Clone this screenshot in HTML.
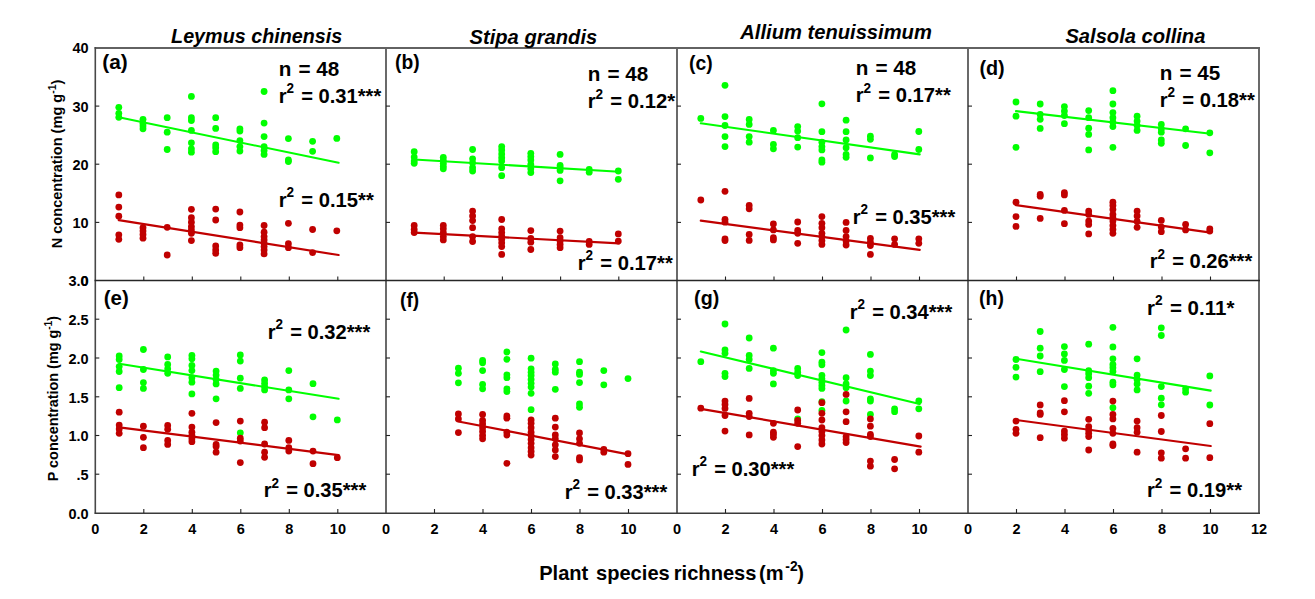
<!DOCTYPE html>
<html lang="en">
<head>
<meta charset="utf-8">
<title>Plant species richness vs N and P concentration</title>
<style>
html,body{margin:0;padding:0;background:#fff;}
body{width:1315px;height:599px;overflow:hidden;}
svg{display:block;}
text{font-family:"Liberation Sans",sans-serif;fill:#000;}
.b{font-weight:bold;font-size:20.6px;}
.bi{font-weight:bold;font-style:italic;font-size:20.6px;}
.s{font-weight:bold;font-size:14.5px;}
</style>
</head>
<body>
<svg width="1315" height="599" viewBox="0 0 1315 599">
<rect x="0" y="0" width="1315" height="599" fill="#ffffff"/>
<g id="axes">
<line x1="94.6" y1="48.0" x2="1260.0" y2="48.0" stroke="#626262" stroke-width="2"/>
<line x1="386.0" y1="48.0" x2="386.0" y2="513.7" stroke="#626262" stroke-width="1.9"/>
<line x1="677.0" y1="48.0" x2="677.0" y2="513.7" stroke="#626262" stroke-width="1.9"/>
<line x1="968.0" y1="48.0" x2="968.0" y2="513.7" stroke="#626262" stroke-width="1.9"/>
<line x1="1259.0" y1="48.0" x2="1259.0" y2="513.7" stroke="#626262" stroke-width="1.9"/>
<line x1="95.3" y1="47.0" x2="95.3" y2="513.7" stroke="#484848" stroke-width="1.6"/>
<line x1="94.6" y1="280.5" x2="1260.0" y2="280.5" stroke="#262626" stroke-width="1.4"/>
<line x1="94.6" y1="513.2" x2="1260.0" y2="513.2" stroke="#3a3a3a" stroke-width="1.5"/>
<line x1="143.8" y1="513.0" x2="143.8" y2="509.0" stroke="#222" stroke-width="1.1"/>
<line x1="192.3" y1="513.0" x2="192.3" y2="509.0" stroke="#222" stroke-width="1.1"/>
<line x1="240.8" y1="513.0" x2="240.8" y2="509.0" stroke="#222" stroke-width="1.1"/>
<line x1="289.3" y1="513.0" x2="289.3" y2="509.0" stroke="#222" stroke-width="1.1"/>
<line x1="337.8" y1="513.0" x2="337.8" y2="509.0" stroke="#222" stroke-width="1.1"/>
<line x1="143.8" y1="280.5" x2="143.8" y2="276.5" stroke="#222" stroke-width="1.1"/>
<line x1="192.3" y1="280.5" x2="192.3" y2="276.5" stroke="#222" stroke-width="1.1"/>
<line x1="240.8" y1="280.5" x2="240.8" y2="276.5" stroke="#222" stroke-width="1.1"/>
<line x1="289.3" y1="280.5" x2="289.3" y2="276.5" stroke="#222" stroke-width="1.1"/>
<line x1="337.8" y1="280.5" x2="337.8" y2="276.5" stroke="#222" stroke-width="1.1"/>
<line x1="434.5" y1="513.0" x2="434.5" y2="509.0" stroke="#222" stroke-width="1.1"/>
<line x1="483.0" y1="513.0" x2="483.0" y2="509.0" stroke="#222" stroke-width="1.1"/>
<line x1="531.5" y1="513.0" x2="531.5" y2="509.0" stroke="#222" stroke-width="1.1"/>
<line x1="580.0" y1="513.0" x2="580.0" y2="509.0" stroke="#222" stroke-width="1.1"/>
<line x1="628.5" y1="513.0" x2="628.5" y2="509.0" stroke="#222" stroke-width="1.1"/>
<line x1="444.2" y1="280.5" x2="444.2" y2="276.5" stroke="#222" stroke-width="1.1"/>
<line x1="502.4" y1="280.5" x2="502.4" y2="276.5" stroke="#222" stroke-width="1.1"/>
<line x1="560.6" y1="280.5" x2="560.6" y2="276.5" stroke="#222" stroke-width="1.1"/>
<line x1="618.8" y1="280.5" x2="618.8" y2="276.5" stroke="#222" stroke-width="1.1"/>
<line x1="725.5" y1="513.0" x2="725.5" y2="509.0" stroke="#222" stroke-width="1.1"/>
<line x1="774.0" y1="513.0" x2="774.0" y2="509.0" stroke="#222" stroke-width="1.1"/>
<line x1="822.5" y1="513.0" x2="822.5" y2="509.0" stroke="#222" stroke-width="1.1"/>
<line x1="871.0" y1="513.0" x2="871.0" y2="509.0" stroke="#222" stroke-width="1.1"/>
<line x1="919.5" y1="513.0" x2="919.5" y2="509.0" stroke="#222" stroke-width="1.1"/>
<line x1="725.5" y1="280.5" x2="725.5" y2="276.5" stroke="#222" stroke-width="1.1"/>
<line x1="774.0" y1="280.5" x2="774.0" y2="276.5" stroke="#222" stroke-width="1.1"/>
<line x1="822.5" y1="280.5" x2="822.5" y2="276.5" stroke="#222" stroke-width="1.1"/>
<line x1="871.0" y1="280.5" x2="871.0" y2="276.5" stroke="#222" stroke-width="1.1"/>
<line x1="919.5" y1="280.5" x2="919.5" y2="276.5" stroke="#222" stroke-width="1.1"/>
<line x1="1016.5" y1="513.0" x2="1016.5" y2="509.0" stroke="#222" stroke-width="1.1"/>
<line x1="1065.0" y1="513.0" x2="1065.0" y2="509.0" stroke="#222" stroke-width="1.1"/>
<line x1="1113.5" y1="513.0" x2="1113.5" y2="509.0" stroke="#222" stroke-width="1.1"/>
<line x1="1162.0" y1="513.0" x2="1162.0" y2="509.0" stroke="#222" stroke-width="1.1"/>
<line x1="1210.5" y1="513.0" x2="1210.5" y2="509.0" stroke="#222" stroke-width="1.1"/>
<line x1="1016.5" y1="280.5" x2="1016.5" y2="276.5" stroke="#222" stroke-width="1.1"/>
<line x1="1065.0" y1="280.5" x2="1065.0" y2="276.5" stroke="#222" stroke-width="1.1"/>
<line x1="1113.5" y1="280.5" x2="1113.5" y2="276.5" stroke="#222" stroke-width="1.1"/>
<line x1="1162.0" y1="280.5" x2="1162.0" y2="276.5" stroke="#222" stroke-width="1.1"/>
<line x1="1210.5" y1="280.5" x2="1210.5" y2="276.5" stroke="#222" stroke-width="1.1"/>
<line x1="95.3" y1="222.4" x2="99.3" y2="222.4" stroke="#222" stroke-width="1.1"/>
<line x1="95.3" y1="164.2" x2="99.3" y2="164.2" stroke="#222" stroke-width="1.1"/>
<line x1="95.3" y1="106.1" x2="99.3" y2="106.1" stroke="#222" stroke-width="1.1"/>
<line x1="95.3" y1="474.2" x2="99.3" y2="474.2" stroke="#222" stroke-width="1.1"/>
<line x1="95.3" y1="435.5" x2="99.3" y2="435.5" stroke="#222" stroke-width="1.1"/>
<line x1="95.3" y1="396.8" x2="99.3" y2="396.8" stroke="#222" stroke-width="1.1"/>
<line x1="95.3" y1="358.0" x2="99.3" y2="358.0" stroke="#222" stroke-width="1.1"/>
<line x1="95.3" y1="319.2" x2="99.3" y2="319.2" stroke="#222" stroke-width="1.1"/>
<line x1="386.0" y1="222.4" x2="390.0" y2="222.4" stroke="#222" stroke-width="1.1"/>
<line x1="386.0" y1="164.2" x2="390.0" y2="164.2" stroke="#222" stroke-width="1.1"/>
<line x1="386.0" y1="106.1" x2="390.0" y2="106.1" stroke="#222" stroke-width="1.1"/>
<line x1="386.0" y1="474.2" x2="390.0" y2="474.2" stroke="#222" stroke-width="1.1"/>
<line x1="386.0" y1="435.5" x2="390.0" y2="435.5" stroke="#222" stroke-width="1.1"/>
<line x1="386.0" y1="396.8" x2="390.0" y2="396.8" stroke="#222" stroke-width="1.1"/>
<line x1="386.0" y1="358.0" x2="390.0" y2="358.0" stroke="#222" stroke-width="1.1"/>
<line x1="386.0" y1="319.2" x2="390.0" y2="319.2" stroke="#222" stroke-width="1.1"/>
<line x1="677.0" y1="222.4" x2="681.0" y2="222.4" stroke="#222" stroke-width="1.1"/>
<line x1="677.0" y1="164.2" x2="681.0" y2="164.2" stroke="#222" stroke-width="1.1"/>
<line x1="677.0" y1="106.1" x2="681.0" y2="106.1" stroke="#222" stroke-width="1.1"/>
<line x1="677.0" y1="474.2" x2="681.0" y2="474.2" stroke="#222" stroke-width="1.1"/>
<line x1="677.0" y1="435.5" x2="681.0" y2="435.5" stroke="#222" stroke-width="1.1"/>
<line x1="677.0" y1="396.8" x2="681.0" y2="396.8" stroke="#222" stroke-width="1.1"/>
<line x1="677.0" y1="358.0" x2="681.0" y2="358.0" stroke="#222" stroke-width="1.1"/>
<line x1="677.0" y1="319.2" x2="681.0" y2="319.2" stroke="#222" stroke-width="1.1"/>
<line x1="968.0" y1="222.4" x2="972.0" y2="222.4" stroke="#222" stroke-width="1.1"/>
<line x1="968.0" y1="164.2" x2="972.0" y2="164.2" stroke="#222" stroke-width="1.1"/>
<line x1="968.0" y1="106.1" x2="972.0" y2="106.1" stroke="#222" stroke-width="1.1"/>
<line x1="968.0" y1="474.2" x2="972.0" y2="474.2" stroke="#222" stroke-width="1.1"/>
<line x1="968.0" y1="435.5" x2="972.0" y2="435.5" stroke="#222" stroke-width="1.1"/>
<line x1="968.0" y1="396.8" x2="972.0" y2="396.8" stroke="#222" stroke-width="1.1"/>
<line x1="968.0" y1="358.0" x2="972.0" y2="358.0" stroke="#222" stroke-width="1.1"/>
<line x1="968.0" y1="319.2" x2="972.0" y2="319.2" stroke="#222" stroke-width="1.1"/>
</g>
<g id="data">
<g fill="#00ff00"><line x1="118.8" y1="117.3" x2="338.6" y2="162.8" stroke="#00ff00" stroke-width="2.1" stroke-linecap="round"/><circle cx="118.8" cy="107.3" r="3.4"/><circle cx="118.8" cy="113.3" r="3.4"/><circle cx="118.8" cy="117.3" r="3.4"/><circle cx="143.0" cy="119.3" r="3.4"/><circle cx="143.0" cy="123.3" r="3.4"/><circle cx="143.0" cy="126.0" r="3.4"/><circle cx="143.0" cy="128.8" r="3.4"/><circle cx="167.2" cy="117.7" r="3.4"/><circle cx="167.2" cy="132.2" r="3.4"/><circle cx="167.2" cy="149.5" r="3.4"/><circle cx="191.4" cy="96.4" r="3.4"/><circle cx="191.4" cy="117.7" r="3.4"/><circle cx="191.4" cy="120.6" r="3.4"/><circle cx="191.4" cy="130.4" r="3.4"/><circle cx="191.4" cy="142.8" r="3.4"/><circle cx="191.4" cy="148.8" r="3.4"/><circle cx="191.4" cy="152.2" r="3.4"/><circle cx="215.7" cy="117.7" r="3.4"/><circle cx="215.7" cy="128.4" r="3.4"/><circle cx="215.7" cy="144.8" r="3.4"/><circle cx="215.7" cy="147.7" r="3.4"/><circle cx="215.7" cy="151.7" r="3.4"/><circle cx="239.9" cy="128.8" r="3.4"/><circle cx="239.9" cy="131.1" r="3.4"/><circle cx="239.9" cy="140.6" r="3.4"/><circle cx="239.9" cy="146.6" r="3.4"/><circle cx="239.9" cy="151.1" r="3.4"/><circle cx="264.1" cy="91.5" r="3.4"/><circle cx="264.1" cy="123.1" r="3.4"/><circle cx="264.1" cy="136.6" r="3.4"/><circle cx="264.1" cy="146.6" r="3.4"/><circle cx="264.1" cy="150.4" r="3.4"/><circle cx="264.1" cy="154.4" r="3.4"/><circle cx="288.4" cy="138.6" r="3.4"/><circle cx="288.4" cy="159.9" r="3.4"/><circle cx="288.4" cy="161.5" r="3.4"/><circle cx="312.6" cy="141.3" r="3.4"/><circle cx="312.6" cy="151.3" r="3.4"/><circle cx="336.8" cy="138.4" r="3.4"/></g>
<g fill="#c00000"><line x1="118.8" y1="220.2" x2="338.6" y2="255.0" stroke="#c00000" stroke-width="2.2" stroke-linecap="round"/><circle cx="118.8" cy="194.9" r="3.4"/><circle cx="118.8" cy="207.1" r="3.4"/><circle cx="118.8" cy="216.2" r="3.4"/><circle cx="118.8" cy="234.8" r="3.4"/><circle cx="118.8" cy="239.3" r="3.4"/><circle cx="143.0" cy="227.7" r="3.4"/><circle cx="143.0" cy="231.1" r="3.4"/><circle cx="143.0" cy="234.4" r="3.4"/><circle cx="143.0" cy="238.2" r="3.4"/><circle cx="167.2" cy="227.3" r="3.4"/><circle cx="167.2" cy="255.0" r="3.4"/><circle cx="191.4" cy="209.3" r="3.4"/><circle cx="191.4" cy="217.7" r="3.4"/><circle cx="191.4" cy="222.2" r="3.4"/><circle cx="191.4" cy="226.6" r="3.4"/><circle cx="191.4" cy="229.9" r="3.4"/><circle cx="191.4" cy="233.3" r="3.4"/><circle cx="191.4" cy="240.6" r="3.4"/><circle cx="215.7" cy="209.1" r="3.4"/><circle cx="215.7" cy="220.0" r="3.4"/><circle cx="215.7" cy="245.9" r="3.4"/><circle cx="215.7" cy="249.9" r="3.4"/><circle cx="215.7" cy="253.3" r="3.4"/><circle cx="239.9" cy="212.0" r="3.4"/><circle cx="239.9" cy="225.1" r="3.4"/><circle cx="239.9" cy="227.7" r="3.4"/><circle cx="239.9" cy="245.0" r="3.4"/><circle cx="239.9" cy="247.7" r="3.4"/><circle cx="264.1" cy="225.5" r="3.4"/><circle cx="264.1" cy="232.2" r="3.4"/><circle cx="264.1" cy="236.6" r="3.4"/><circle cx="264.1" cy="239.9" r="3.4"/><circle cx="264.1" cy="243.3" r="3.4"/><circle cx="264.1" cy="246.6" r="3.4"/><circle cx="264.1" cy="249.9" r="3.4"/><circle cx="264.1" cy="253.9" r="3.4"/><circle cx="288.4" cy="223.3" r="3.4"/><circle cx="288.4" cy="243.7" r="3.4"/><circle cx="288.4" cy="247.7" r="3.4"/><circle cx="312.6" cy="229.5" r="3.4"/><circle cx="312.6" cy="252.6" r="3.4"/><circle cx="336.8" cy="230.8" r="3.4"/></g>
<g fill="#00ff00"><line x1="414.2" y1="159.5" x2="619.2" y2="171.7" stroke="#00ff00" stroke-width="2.1" stroke-linecap="round"/><circle cx="414.2" cy="151.7" r="3.4"/><circle cx="414.2" cy="157.1" r="3.4"/><circle cx="414.2" cy="161.1" r="3.4"/><circle cx="414.2" cy="163.3" r="3.4"/><circle cx="443.3" cy="157.3" r="3.4"/><circle cx="443.3" cy="160.4" r="3.4"/><circle cx="443.3" cy="163.3" r="3.4"/><circle cx="443.3" cy="166.2" r="3.4"/><circle cx="443.3" cy="168.8" r="3.4"/><circle cx="472.6" cy="149.5" r="3.4"/><circle cx="472.6" cy="158.8" r="3.4"/><circle cx="472.6" cy="162.8" r="3.4"/><circle cx="472.6" cy="167.7" r="3.4"/><circle cx="472.6" cy="171.0" r="3.4"/><circle cx="501.7" cy="146.6" r="3.4"/><circle cx="501.7" cy="149.9" r="3.4"/><circle cx="501.7" cy="153.9" r="3.4"/><circle cx="501.7" cy="157.7" r="3.4"/><circle cx="501.7" cy="161.1" r="3.4"/><circle cx="501.7" cy="167.7" r="3.4"/><circle cx="501.7" cy="175.7" r="3.4"/><circle cx="530.8" cy="153.3" r="3.4"/><circle cx="530.8" cy="156.6" r="3.4"/><circle cx="530.8" cy="159.9" r="3.4"/><circle cx="530.8" cy="164.4" r="3.4"/><circle cx="530.8" cy="168.8" r="3.4"/><circle cx="530.8" cy="172.6" r="3.4"/><circle cx="560.1" cy="154.4" r="3.4"/><circle cx="560.1" cy="165.5" r="3.4"/><circle cx="560.1" cy="167.7" r="3.4"/><circle cx="560.1" cy="170.4" r="3.4"/><circle cx="560.1" cy="180.8" r="3.4"/><circle cx="589.2" cy="169.5" r="3.4"/><circle cx="589.2" cy="172.2" r="3.4"/><circle cx="618.3" cy="171.0" r="3.4"/><circle cx="618.3" cy="179.3" r="3.4"/></g>
<g fill="#c00000"><line x1="414.2" y1="232.6" x2="619.2" y2="243.3" stroke="#c00000" stroke-width="2.2" stroke-linecap="round"/><circle cx="414.2" cy="225.5" r="3.4"/><circle cx="414.2" cy="229.5" r="3.4"/><circle cx="414.2" cy="232.6" r="3.4"/><circle cx="443.3" cy="225.5" r="3.4"/><circle cx="443.3" cy="228.8" r="3.4"/><circle cx="443.3" cy="232.6" r="3.4"/><circle cx="443.3" cy="236.6" r="3.4"/><circle cx="443.3" cy="239.9" r="3.4"/><circle cx="472.6" cy="211.1" r="3.4"/><circle cx="472.6" cy="216.0" r="3.4"/><circle cx="472.6" cy="220.6" r="3.4"/><circle cx="472.6" cy="227.7" r="3.4"/><circle cx="472.6" cy="236.6" r="3.4"/><circle cx="472.6" cy="241.5" r="3.4"/><circle cx="501.7" cy="219.5" r="3.4"/><circle cx="501.7" cy="228.8" r="3.4"/><circle cx="501.7" cy="232.6" r="3.4"/><circle cx="501.7" cy="236.2" r="3.4"/><circle cx="501.7" cy="239.3" r="3.4"/><circle cx="501.7" cy="242.8" r="3.4"/><circle cx="501.7" cy="246.6" r="3.4"/><circle cx="501.7" cy="254.4" r="3.4"/><circle cx="530.8" cy="230.6" r="3.4"/><circle cx="530.8" cy="238.4" r="3.4"/><circle cx="530.8" cy="242.2" r="3.4"/><circle cx="530.8" cy="249.5" r="3.4"/><circle cx="560.1" cy="231.1" r="3.4"/><circle cx="560.1" cy="237.7" r="3.4"/><circle cx="560.1" cy="241.1" r="3.4"/><circle cx="560.1" cy="244.4" r="3.4"/><circle cx="560.1" cy="247.7" r="3.4"/><circle cx="589.2" cy="241.5" r="3.4"/><circle cx="589.2" cy="244.4" r="3.4"/><circle cx="618.3" cy="233.9" r="3.4"/><circle cx="618.3" cy="241.1" r="3.4"/></g>
<g fill="#00ff00"><line x1="700.8" y1="123.3" x2="919.7" y2="154.4" stroke="#00ff00" stroke-width="2.1" stroke-linecap="round"/><circle cx="700.8" cy="118.4" r="3.4"/><circle cx="725.0" cy="85.3" r="3.4"/><circle cx="725.0" cy="116.6" r="3.4"/><circle cx="725.0" cy="125.5" r="3.4"/><circle cx="725.0" cy="136.6" r="3.4"/><circle cx="725.0" cy="146.6" r="3.4"/><circle cx="749.2" cy="119.5" r="3.4"/><circle cx="749.2" cy="124.4" r="3.4"/><circle cx="749.2" cy="136.6" r="3.4"/><circle cx="749.2" cy="142.2" r="3.4"/><circle cx="773.4" cy="130.4" r="3.4"/><circle cx="773.4" cy="144.4" r="3.4"/><circle cx="773.4" cy="148.8" r="3.4"/><circle cx="797.7" cy="126.6" r="3.4"/><circle cx="797.7" cy="131.1" r="3.4"/><circle cx="797.7" cy="137.7" r="3.4"/><circle cx="797.7" cy="147.1" r="3.4"/><circle cx="821.9" cy="103.8" r="3.4"/><circle cx="821.9" cy="131.7" r="3.4"/><circle cx="821.9" cy="142.2" r="3.4"/><circle cx="821.9" cy="146.6" r="3.4"/><circle cx="821.9" cy="149.9" r="3.4"/><circle cx="821.9" cy="159.9" r="3.4"/><circle cx="821.9" cy="162.2" r="3.4"/><circle cx="846.1" cy="120.2" r="3.4"/><circle cx="846.1" cy="131.7" r="3.4"/><circle cx="846.1" cy="140.0" r="3.4"/><circle cx="846.1" cy="147.7" r="3.4"/><circle cx="846.1" cy="154.4" r="3.4"/><circle cx="846.1" cy="157.3" r="3.4"/><circle cx="870.4" cy="136.2" r="3.4"/><circle cx="870.4" cy="139.3" r="3.4"/><circle cx="870.4" cy="157.9" r="3.4"/><circle cx="894.6" cy="154.4" r="3.4"/><circle cx="894.6" cy="156.6" r="3.4"/><circle cx="918.8" cy="131.5" r="3.4"/><circle cx="918.8" cy="149.5" r="3.4"/></g>
<g fill="#c00000"><line x1="700.8" y1="220.6" x2="919.7" y2="249.9" stroke="#c00000" stroke-width="2.2" stroke-linecap="round"/><circle cx="700.8" cy="200.0" r="3.4"/><circle cx="725.0" cy="191.3" r="3.4"/><circle cx="725.0" cy="219.3" r="3.4"/><circle cx="725.0" cy="222.2" r="3.4"/><circle cx="725.0" cy="238.8" r="3.4"/><circle cx="725.0" cy="240.6" r="3.4"/><circle cx="749.2" cy="205.5" r="3.4"/><circle cx="749.2" cy="208.8" r="3.4"/><circle cx="749.2" cy="234.4" r="3.4"/><circle cx="749.2" cy="240.4" r="3.4"/><circle cx="773.4" cy="224.0" r="3.4"/><circle cx="773.4" cy="229.9" r="3.4"/><circle cx="773.4" cy="237.7" r="3.4"/><circle cx="773.4" cy="239.9" r="3.4"/><circle cx="797.7" cy="222.0" r="3.4"/><circle cx="797.7" cy="230.4" r="3.4"/><circle cx="797.7" cy="233.3" r="3.4"/><circle cx="797.7" cy="243.3" r="3.4"/><circle cx="821.9" cy="216.6" r="3.4"/><circle cx="821.9" cy="223.3" r="3.4"/><circle cx="821.9" cy="227.7" r="3.4"/><circle cx="821.9" cy="233.3" r="3.4"/><circle cx="821.9" cy="236.6" r="3.4"/><circle cx="821.9" cy="240.6" r="3.4"/><circle cx="821.9" cy="244.4" r="3.4"/><circle cx="846.1" cy="222.4" r="3.4"/><circle cx="846.1" cy="230.4" r="3.4"/><circle cx="846.1" cy="236.6" r="3.4"/><circle cx="846.1" cy="241.1" r="3.4"/><circle cx="846.1" cy="245.0" r="3.4"/><circle cx="870.4" cy="238.4" r="3.4"/><circle cx="870.4" cy="242.2" r="3.4"/><circle cx="870.4" cy="245.5" r="3.4"/><circle cx="870.4" cy="254.4" r="3.4"/><circle cx="894.6" cy="238.8" r="3.4"/><circle cx="894.6" cy="244.4" r="3.4"/><circle cx="918.8" cy="238.8" r="3.4"/><circle cx="918.8" cy="243.3" r="3.4"/></g>
<g fill="#00ff00"><line x1="1016.0" y1="111.1" x2="1210.7" y2="133.7" stroke="#00ff00" stroke-width="2.1" stroke-linecap="round"/><circle cx="1016.0" cy="102.0" r="3.4"/><circle cx="1016.0" cy="116.2" r="3.4"/><circle cx="1016.0" cy="147.3" r="3.4"/><circle cx="1040.2" cy="104.0" r="3.4"/><circle cx="1040.2" cy="114.4" r="3.4"/><circle cx="1040.2" cy="119.3" r="3.4"/><circle cx="1040.2" cy="128.4" r="3.4"/><circle cx="1064.4" cy="106.6" r="3.4"/><circle cx="1064.4" cy="111.1" r="3.4"/><circle cx="1064.4" cy="115.5" r="3.4"/><circle cx="1064.4" cy="123.7" r="3.4"/><circle cx="1088.7" cy="110.6" r="3.4"/><circle cx="1088.7" cy="117.7" r="3.4"/><circle cx="1088.7" cy="128.2" r="3.4"/><circle cx="1088.7" cy="134.4" r="3.4"/><circle cx="1088.7" cy="149.9" r="3.4"/><circle cx="1112.9" cy="90.7" r="3.4"/><circle cx="1112.9" cy="104.0" r="3.4"/><circle cx="1112.9" cy="112.6" r="3.4"/><circle cx="1112.9" cy="117.7" r="3.4"/><circle cx="1112.9" cy="122.2" r="3.4"/><circle cx="1112.9" cy="126.6" r="3.4"/><circle cx="1112.9" cy="147.3" r="3.4"/><circle cx="1137.1" cy="116.2" r="3.4"/><circle cx="1137.1" cy="121.1" r="3.4"/><circle cx="1137.1" cy="125.5" r="3.4"/><circle cx="1137.1" cy="130.4" r="3.4"/><circle cx="1161.3" cy="124.4" r="3.4"/><circle cx="1161.3" cy="128.8" r="3.4"/><circle cx="1161.3" cy="132.2" r="3.4"/><circle cx="1161.3" cy="140.0" r="3.4"/><circle cx="1161.3" cy="143.3" r="3.4"/><circle cx="1185.6" cy="128.8" r="3.4"/><circle cx="1185.6" cy="145.5" r="3.4"/><circle cx="1209.8" cy="132.8" r="3.4"/><circle cx="1209.8" cy="152.8" r="3.4"/></g>
<g fill="#c00000"><line x1="1016.0" y1="205.1" x2="1210.7" y2="232.6" stroke="#c00000" stroke-width="2.2" stroke-linecap="round"/><circle cx="1016.0" cy="202.2" r="3.4"/><circle cx="1016.0" cy="216.6" r="3.4"/><circle cx="1016.0" cy="226.4" r="3.4"/><circle cx="1040.2" cy="194.4" r="3.4"/><circle cx="1040.2" cy="196.2" r="3.4"/><circle cx="1040.2" cy="218.4" r="3.4"/><circle cx="1064.4" cy="192.6" r="3.4"/><circle cx="1064.4" cy="194.9" r="3.4"/><circle cx="1064.4" cy="210.4" r="3.4"/><circle cx="1064.4" cy="223.7" r="3.4"/><circle cx="1088.7" cy="211.1" r="3.4"/><circle cx="1088.7" cy="214.4" r="3.4"/><circle cx="1088.7" cy="221.1" r="3.4"/><circle cx="1088.7" cy="224.4" r="3.4"/><circle cx="1088.7" cy="233.9" r="3.4"/><circle cx="1112.9" cy="202.2" r="3.4"/><circle cx="1112.9" cy="205.5" r="3.4"/><circle cx="1112.9" cy="209.5" r="3.4"/><circle cx="1112.9" cy="214.4" r="3.4"/><circle cx="1112.9" cy="217.7" r="3.4"/><circle cx="1112.9" cy="221.1" r="3.4"/><circle cx="1112.9" cy="225.5" r="3.4"/><circle cx="1112.9" cy="229.5" r="3.4"/><circle cx="1112.9" cy="233.3" r="3.4"/><circle cx="1137.1" cy="211.1" r="3.4"/><circle cx="1137.1" cy="216.0" r="3.4"/><circle cx="1137.1" cy="221.5" r="3.4"/><circle cx="1137.1" cy="227.3" r="3.4"/><circle cx="1161.3" cy="220.4" r="3.4"/><circle cx="1161.3" cy="227.1" r="3.4"/><circle cx="1161.3" cy="231.7" r="3.4"/><circle cx="1185.6" cy="224.4" r="3.4"/><circle cx="1185.6" cy="229.9" r="3.4"/><circle cx="1209.8" cy="228.8" r="3.4"/><circle cx="1209.8" cy="231.1" r="3.4"/></g>
<g fill="#00ff00"><line x1="119.2" y1="363.7" x2="338.6" y2="398.8" stroke="#00ff00" stroke-width="2.1" stroke-linecap="round"/><circle cx="119.2" cy="356.0" r="3.4"/><circle cx="119.2" cy="359.5" r="3.4"/><circle cx="119.2" cy="366.6" r="3.4"/><circle cx="119.2" cy="371.5" r="3.4"/><circle cx="119.2" cy="387.7" r="3.4"/><circle cx="143.4" cy="349.5" r="3.4"/><circle cx="143.4" cy="369.5" r="3.4"/><circle cx="143.4" cy="382.6" r="3.4"/><circle cx="143.4" cy="388.4" r="3.4"/><circle cx="167.7" cy="356.9" r="3.4"/><circle cx="167.7" cy="364.4" r="3.4"/><circle cx="167.7" cy="368.8" r="3.4"/><circle cx="167.7" cy="373.3" r="3.4"/><circle cx="191.9" cy="355.5" r="3.4"/><circle cx="191.9" cy="358.8" r="3.4"/><circle cx="191.9" cy="365.5" r="3.4"/><circle cx="191.9" cy="370.6" r="3.4"/><circle cx="191.9" cy="377.7" r="3.4"/><circle cx="191.9" cy="382.2" r="3.4"/><circle cx="191.9" cy="393.9" r="3.4"/><circle cx="216.1" cy="371.1" r="3.4"/><circle cx="216.1" cy="375.1" r="3.4"/><circle cx="216.1" cy="379.5" r="3.4"/><circle cx="216.1" cy="383.9" r="3.4"/><circle cx="216.1" cy="398.8" r="3.4"/><circle cx="240.3" cy="354.9" r="3.4"/><circle cx="240.3" cy="361.1" r="3.4"/><circle cx="240.3" cy="378.2" r="3.4"/><circle cx="240.3" cy="388.4" r="3.4"/><circle cx="240.3" cy="432.8" r="3.4"/><circle cx="264.6" cy="379.9" r="3.4"/><circle cx="264.6" cy="383.3" r="3.4"/><circle cx="264.6" cy="386.6" r="3.4"/><circle cx="264.6" cy="389.9" r="3.4"/><circle cx="288.8" cy="370.6" r="3.4"/><circle cx="288.8" cy="389.9" r="3.4"/><circle cx="288.8" cy="398.8" r="3.4"/><circle cx="313.0" cy="383.7" r="3.4"/><circle cx="313.0" cy="416.8" r="3.4"/><circle cx="337.3" cy="419.9" r="3.4"/></g>
<g fill="#c00000"><line x1="119.2" y1="427.3" x2="338.6" y2="455.1" stroke="#c00000" stroke-width="2.2" stroke-linecap="round"/><circle cx="119.2" cy="412.2" r="3.4"/><circle cx="119.2" cy="425.1" r="3.4"/><circle cx="119.2" cy="428.9" r="3.4"/><circle cx="119.2" cy="433.3" r="3.4"/><circle cx="143.4" cy="426.2" r="3.4"/><circle cx="143.4" cy="437.3" r="3.4"/><circle cx="143.4" cy="447.7" r="3.4"/><circle cx="167.7" cy="425.5" r="3.4"/><circle cx="167.7" cy="429.3" r="3.4"/><circle cx="167.7" cy="440.4" r="3.4"/><circle cx="167.7" cy="444.4" r="3.4"/><circle cx="191.9" cy="413.3" r="3.4"/><circle cx="191.9" cy="427.1" r="3.4"/><circle cx="191.9" cy="432.2" r="3.4"/><circle cx="191.9" cy="435.5" r="3.4"/><circle cx="191.9" cy="438.8" r="3.4"/><circle cx="191.9" cy="441.7" r="3.4"/><circle cx="216.1" cy="422.6" r="3.4"/><circle cx="216.1" cy="444.4" r="3.4"/><circle cx="216.1" cy="446.6" r="3.4"/><circle cx="216.1" cy="452.2" r="3.4"/><circle cx="240.3" cy="421.1" r="3.4"/><circle cx="240.3" cy="438.2" r="3.4"/><circle cx="240.3" cy="441.1" r="3.4"/><circle cx="240.3" cy="462.6" r="3.4"/><circle cx="264.6" cy="422.2" r="3.4"/><circle cx="264.6" cy="427.7" r="3.4"/><circle cx="264.6" cy="444.0" r="3.4"/><circle cx="264.6" cy="452.2" r="3.4"/><circle cx="264.6" cy="457.3" r="3.4"/><circle cx="288.8" cy="440.4" r="3.4"/><circle cx="288.8" cy="447.7" r="3.4"/><circle cx="288.8" cy="451.1" r="3.4"/><circle cx="313.0" cy="451.1" r="3.4"/><circle cx="313.0" cy="463.7" r="3.4"/><circle cx="337.3" cy="457.7" r="3.4"/></g>
<g fill="#00ff00"><circle cx="458.4" cy="368.2" r="3.4"/><circle cx="458.4" cy="373.3" r="3.4"/><circle cx="458.4" cy="382.8" r="3.4"/><circle cx="482.6" cy="360.4" r="3.4"/><circle cx="482.6" cy="362.8" r="3.4"/><circle cx="482.6" cy="370.6" r="3.4"/><circle cx="482.6" cy="384.4" r="3.4"/><circle cx="482.6" cy="388.8" r="3.4"/><circle cx="506.9" cy="352.0" r="3.4"/><circle cx="506.9" cy="359.3" r="3.4"/><circle cx="506.9" cy="374.8" r="3.4"/><circle cx="506.9" cy="377.7" r="3.4"/><circle cx="506.9" cy="388.8" r="3.4"/><circle cx="506.9" cy="391.5" r="3.4"/><circle cx="531.1" cy="358.2" r="3.4"/><circle cx="531.1" cy="368.8" r="3.4"/><circle cx="531.1" cy="372.2" r="3.4"/><circle cx="531.1" cy="375.5" r="3.4"/><circle cx="531.1" cy="379.5" r="3.4"/><circle cx="531.1" cy="383.3" r="3.4"/><circle cx="531.1" cy="387.1" r="3.4"/><circle cx="531.1" cy="393.3" r="3.4"/><circle cx="531.1" cy="409.7" r="3.4"/><circle cx="555.3" cy="364.0" r="3.4"/><circle cx="555.3" cy="369.5" r="3.4"/><circle cx="555.3" cy="372.2" r="3.4"/><circle cx="555.3" cy="389.3" r="3.4"/><circle cx="579.5" cy="361.7" r="3.4"/><circle cx="579.5" cy="372.2" r="3.4"/><circle cx="579.5" cy="374.4" r="3.4"/><circle cx="579.5" cy="382.6" r="3.4"/><circle cx="579.5" cy="403.9" r="3.4"/><circle cx="579.5" cy="407.3" r="3.4"/><circle cx="603.8" cy="370.6" r="3.4"/><circle cx="603.8" cy="384.8" r="3.4"/><circle cx="628.0" cy="378.6" r="3.4"/></g>
<g fill="#c00000"><line x1="458.4" y1="421.5" x2="629.6" y2="454.6" stroke="#c00000" stroke-width="2.2" stroke-linecap="round"/><circle cx="458.4" cy="414.0" r="3.4"/><circle cx="458.4" cy="418.9" r="3.4"/><circle cx="458.4" cy="432.6" r="3.4"/><circle cx="482.6" cy="414.4" r="3.4"/><circle cx="482.6" cy="420.4" r="3.4"/><circle cx="482.6" cy="424.0" r="3.4"/><circle cx="482.6" cy="427.7" r="3.4"/><circle cx="482.6" cy="431.5" r="3.4"/><circle cx="482.6" cy="435.5" r="3.4"/><circle cx="482.6" cy="438.8" r="3.4"/><circle cx="506.9" cy="416.0" r="3.4"/><circle cx="506.9" cy="418.2" r="3.4"/><circle cx="506.9" cy="432.2" r="3.4"/><circle cx="506.9" cy="435.1" r="3.4"/><circle cx="506.9" cy="463.3" r="3.4"/><circle cx="531.1" cy="420.0" r="3.4"/><circle cx="531.1" cy="423.3" r="3.4"/><circle cx="531.1" cy="427.7" r="3.4"/><circle cx="531.1" cy="432.2" r="3.4"/><circle cx="531.1" cy="435.5" r="3.4"/><circle cx="531.1" cy="439.5" r="3.4"/><circle cx="531.1" cy="443.3" r="3.4"/><circle cx="531.1" cy="447.7" r="3.4"/><circle cx="531.1" cy="451.5" r="3.4"/><circle cx="531.1" cy="455.1" r="3.4"/><circle cx="555.3" cy="418.2" r="3.4"/><circle cx="555.3" cy="427.1" r="3.4"/><circle cx="555.3" cy="434.9" r="3.4"/><circle cx="555.3" cy="438.8" r="3.4"/><circle cx="555.3" cy="444.8" r="3.4"/><circle cx="555.3" cy="450.0" r="3.4"/><circle cx="555.3" cy="456.6" r="3.4"/><circle cx="579.5" cy="432.9" r="3.4"/><circle cx="579.5" cy="438.8" r="3.4"/><circle cx="579.5" cy="443.3" r="3.4"/><circle cx="579.5" cy="457.7" r="3.4"/><circle cx="579.5" cy="459.9" r="3.4"/><circle cx="603.8" cy="449.3" r="3.4"/><circle cx="603.8" cy="452.2" r="3.4"/><circle cx="628.0" cy="453.7" r="3.4"/><circle cx="628.0" cy="464.4" r="3.4"/></g>
<g fill="#00ff00"><line x1="700.8" y1="351.5" x2="919.7" y2="403.9" stroke="#00ff00" stroke-width="2.1" stroke-linecap="round"/><circle cx="700.8" cy="361.7" r="3.4"/><circle cx="725.0" cy="324.0" r="3.4"/><circle cx="725.0" cy="350.0" r="3.4"/><circle cx="725.0" cy="353.3" r="3.4"/><circle cx="725.0" cy="373.3" r="3.4"/><circle cx="725.0" cy="376.6" r="3.4"/><circle cx="749.2" cy="338.0" r="3.4"/><circle cx="749.2" cy="355.5" r="3.4"/><circle cx="749.2" cy="359.5" r="3.4"/><circle cx="749.2" cy="368.4" r="3.4"/><circle cx="773.4" cy="348.2" r="3.4"/><circle cx="773.4" cy="370.6" r="3.4"/><circle cx="773.4" cy="373.3" r="3.4"/><circle cx="773.4" cy="383.9" r="3.4"/><circle cx="797.7" cy="368.4" r="3.4"/><circle cx="797.7" cy="372.2" r="3.4"/><circle cx="797.7" cy="375.5" r="3.4"/><circle cx="797.7" cy="418.8" r="3.4"/><circle cx="821.9" cy="352.6" r="3.4"/><circle cx="821.9" cy="362.2" r="3.4"/><circle cx="821.9" cy="364.8" r="3.4"/><circle cx="821.9" cy="375.5" r="3.4"/><circle cx="821.9" cy="378.8" r="3.4"/><circle cx="821.9" cy="382.2" r="3.4"/><circle cx="821.9" cy="385.5" r="3.4"/><circle cx="821.9" cy="388.4" r="3.4"/><circle cx="821.9" cy="401.7" r="3.4"/><circle cx="821.9" cy="410.4" r="3.4"/><circle cx="846.1" cy="330.0" r="3.4"/><circle cx="846.1" cy="377.7" r="3.4"/><circle cx="846.1" cy="383.9" r="3.4"/><circle cx="846.1" cy="387.7" r="3.4"/><circle cx="846.1" cy="401.0" r="3.4"/><circle cx="870.4" cy="354.4" r="3.4"/><circle cx="870.4" cy="371.1" r="3.4"/><circle cx="870.4" cy="375.5" r="3.4"/><circle cx="870.4" cy="398.8" r="3.4"/><circle cx="870.4" cy="401.0" r="3.4"/><circle cx="870.4" cy="414.4" r="3.4"/><circle cx="894.6" cy="408.8" r="3.4"/><circle cx="894.6" cy="411.7" r="3.4"/><circle cx="918.8" cy="401.0" r="3.4"/><circle cx="918.8" cy="408.8" r="3.4"/></g>
<g fill="#c00000"><line x1="700.8" y1="408.9" x2="920.6" y2="446.6" stroke="#c00000" stroke-width="2.2" stroke-linecap="round"/><circle cx="700.8" cy="408.2" r="3.4"/><circle cx="725.0" cy="401.1" r="3.4"/><circle cx="725.0" cy="404.4" r="3.4"/><circle cx="725.0" cy="408.4" r="3.4"/><circle cx="725.0" cy="415.5" r="3.4"/><circle cx="725.0" cy="431.1" r="3.4"/><circle cx="749.2" cy="398.4" r="3.4"/><circle cx="749.2" cy="413.3" r="3.4"/><circle cx="749.2" cy="416.6" r="3.4"/><circle cx="749.2" cy="434.9" r="3.4"/><circle cx="773.4" cy="423.3" r="3.4"/><circle cx="773.4" cy="432.2" r="3.4"/><circle cx="773.4" cy="434.4" r="3.4"/><circle cx="773.4" cy="437.3" r="3.4"/><circle cx="797.7" cy="410.0" r="3.4"/><circle cx="797.7" cy="420.4" r="3.4"/><circle cx="797.7" cy="423.3" r="3.4"/><circle cx="797.7" cy="446.6" r="3.4"/><circle cx="821.9" cy="402.7" r="3.4"/><circle cx="821.9" cy="413.3" r="3.4"/><circle cx="821.9" cy="420.0" r="3.4"/><circle cx="821.9" cy="427.7" r="3.4"/><circle cx="821.9" cy="431.5" r="3.4"/><circle cx="821.9" cy="435.5" r="3.4"/><circle cx="821.9" cy="440.0" r="3.4"/><circle cx="821.9" cy="444.0" r="3.4"/><circle cx="846.1" cy="394.4" r="3.4"/><circle cx="846.1" cy="411.8" r="3.4"/><circle cx="846.1" cy="421.7" r="3.4"/><circle cx="846.1" cy="436.6" r="3.4"/><circle cx="846.1" cy="439.5" r="3.4"/><circle cx="846.1" cy="442.6" r="3.4"/><circle cx="870.4" cy="418.9" r="3.4"/><circle cx="870.4" cy="426.2" r="3.4"/><circle cx="870.4" cy="434.4" r="3.4"/><circle cx="870.4" cy="436.6" r="3.4"/><circle cx="870.4" cy="461.1" r="3.4"/><circle cx="870.4" cy="466.2" r="3.4"/><circle cx="894.6" cy="459.5" r="3.4"/><circle cx="894.6" cy="468.8" r="3.4"/><circle cx="918.8" cy="436.0" r="3.4"/><circle cx="918.8" cy="452.2" r="3.4"/></g>
<g fill="#00ff00"><line x1="1016.0" y1="358.8" x2="1210.7" y2="390.6" stroke="#00ff00" stroke-width="2.1" stroke-linecap="round"/><circle cx="1016.0" cy="359.5" r="3.4"/><circle cx="1016.0" cy="367.3" r="3.4"/><circle cx="1016.0" cy="377.1" r="3.4"/><circle cx="1040.2" cy="331.5" r="3.4"/><circle cx="1040.2" cy="348.2" r="3.4"/><circle cx="1040.2" cy="356.0" r="3.4"/><circle cx="1040.2" cy="371.7" r="3.4"/><circle cx="1064.4" cy="346.6" r="3.4"/><circle cx="1064.4" cy="354.0" r="3.4"/><circle cx="1064.4" cy="360.4" r="3.4"/><circle cx="1064.4" cy="369.5" r="3.4"/><circle cx="1064.4" cy="386.6" r="3.4"/><circle cx="1088.7" cy="344.2" r="3.4"/><circle cx="1088.7" cy="370.6" r="3.4"/><circle cx="1088.7" cy="373.7" r="3.4"/><circle cx="1088.7" cy="377.7" r="3.4"/><circle cx="1088.7" cy="386.2" r="3.4"/><circle cx="1088.7" cy="393.3" r="3.4"/><circle cx="1112.9" cy="327.3" r="3.4"/><circle cx="1112.9" cy="346.9" r="3.4"/><circle cx="1112.9" cy="358.8" r="3.4"/><circle cx="1112.9" cy="364.4" r="3.4"/><circle cx="1112.9" cy="367.7" r="3.4"/><circle cx="1112.9" cy="371.5" r="3.4"/><circle cx="1112.9" cy="382.2" r="3.4"/><circle cx="1112.9" cy="384.8" r="3.4"/><circle cx="1112.9" cy="407.7" r="3.4"/><circle cx="1137.1" cy="358.8" r="3.4"/><circle cx="1137.1" cy="375.1" r="3.4"/><circle cx="1137.1" cy="379.5" r="3.4"/><circle cx="1137.1" cy="383.9" r="3.4"/><circle cx="1137.1" cy="389.9" r="3.4"/><circle cx="1161.3" cy="327.8" r="3.4"/><circle cx="1161.3" cy="335.5" r="3.4"/><circle cx="1161.3" cy="386.6" r="3.4"/><circle cx="1161.3" cy="398.2" r="3.4"/><circle cx="1161.3" cy="404.8" r="3.4"/><circle cx="1185.6" cy="388.8" r="3.4"/><circle cx="1185.6" cy="392.2" r="3.4"/><circle cx="1209.8" cy="375.9" r="3.4"/><circle cx="1209.8" cy="405.0" r="3.4"/></g>
<g fill="#c00000"><line x1="1016.0" y1="420.0" x2="1210.7" y2="446.0" stroke="#c00000" stroke-width="2.2" stroke-linecap="round"/><circle cx="1016.0" cy="421.1" r="3.4"/><circle cx="1016.0" cy="429.3" r="3.4"/><circle cx="1016.0" cy="433.3" r="3.4"/><circle cx="1040.2" cy="404.9" r="3.4"/><circle cx="1040.2" cy="412.9" r="3.4"/><circle cx="1040.2" cy="414.4" r="3.4"/><circle cx="1040.2" cy="437.7" r="3.4"/><circle cx="1064.4" cy="400.7" r="3.4"/><circle cx="1064.4" cy="411.8" r="3.4"/><circle cx="1064.4" cy="431.1" r="3.4"/><circle cx="1064.4" cy="434.4" r="3.4"/><circle cx="1064.4" cy="438.2" r="3.4"/><circle cx="1088.7" cy="419.3" r="3.4"/><circle cx="1088.7" cy="426.6" r="3.4"/><circle cx="1088.7" cy="430.0" r="3.4"/><circle cx="1088.7" cy="433.3" r="3.4"/><circle cx="1088.7" cy="436.6" r="3.4"/><circle cx="1088.7" cy="450.0" r="3.4"/><circle cx="1112.9" cy="401.1" r="3.4"/><circle cx="1112.9" cy="414.4" r="3.4"/><circle cx="1112.9" cy="418.9" r="3.4"/><circle cx="1112.9" cy="428.4" r="3.4"/><circle cx="1112.9" cy="433.3" r="3.4"/><circle cx="1112.9" cy="444.0" r="3.4"/><circle cx="1112.9" cy="445.5" r="3.4"/><circle cx="1137.1" cy="421.1" r="3.4"/><circle cx="1137.1" cy="427.7" r="3.4"/><circle cx="1137.1" cy="432.2" r="3.4"/><circle cx="1137.1" cy="452.2" r="3.4"/><circle cx="1161.3" cy="415.5" r="3.4"/><circle cx="1161.3" cy="431.5" r="3.4"/><circle cx="1161.3" cy="452.8" r="3.4"/><circle cx="1161.3" cy="458.2" r="3.4"/><circle cx="1185.6" cy="448.8" r="3.4"/><circle cx="1185.6" cy="458.2" r="3.4"/><circle cx="1209.8" cy="423.7" r="3.4"/><circle cx="1209.8" cy="457.7" r="3.4"/></g>
</g>
<g id="labels">
<text x="171.1" y="43.1" class="bi" textLength="171.1" lengthAdjust="spacingAndGlyphs">Leymus chinensis</text>
<text x="469.5" y="43.9" class="bi" textLength="127.7" lengthAdjust="spacingAndGlyphs">Stipa grandis</text>
<text x="740.3" y="38.9" class="bi" textLength="191.5" lengthAdjust="spacingAndGlyphs">Allium tenuissimum</text>
<text x="1065.4" y="43.1" class="bi" textLength="140.0" lengthAdjust="spacingAndGlyphs">Salsola collina</text>
<text x="102.3" y="68.9" class="b" textLength="25.5" lengthAdjust="spacingAndGlyphs">(a)</text>
<text x="395.1" y="68.7" class="b" textLength="24.6" lengthAdjust="spacingAndGlyphs">(b)</text>
<text x="689.1" y="69.7" class="b" textLength="23.6" lengthAdjust="spacingAndGlyphs">(c)</text>
<text x="979.4" y="74.9" class="b" textLength="25.3" lengthAdjust="spacingAndGlyphs">(d)</text>
<text x="103.8" y="304.8" class="b" textLength="25.0" lengthAdjust="spacingAndGlyphs">(e)</text>
<text x="400.1" y="306.6" class="b" textLength="19.1" lengthAdjust="spacingAndGlyphs">(f)</text>
<text x="694.1" y="304.8" class="b" textLength="25.1" lengthAdjust="spacingAndGlyphs">(g)</text>
<text x="979.1" y="304.8" class="b" textLength="24.8" lengthAdjust="spacingAndGlyphs">(h)</text>
<text x="278.7" y="76.0" class="b" textLength="60.6" lengthAdjust="spacingAndGlyphs">n <tspan dx="1.4">= 48</tspan></text>
<text x="278.7" y="102.6" class="b" textLength="102.6" lengthAdjust="spacingAndGlyphs">r<tspan dy="-9.4" font-size="13.8">2</tspan><tspan dy="9.4" dx="1.6"> = 0.31***</tspan></text>
<text x="278.7" y="206.8" class="b" textLength="95.1" lengthAdjust="spacingAndGlyphs">r<tspan dy="-9.4" font-size="13.8">2</tspan><tspan dy="9.4" dx="1.6"> = 0.15**</tspan></text>
<text x="587.7" y="81.0" class="b" textLength="60.6" lengthAdjust="spacingAndGlyphs">n <tspan dx="1.4">= 48</tspan></text>
<text x="587.7" y="107.9" class="b" textLength="87.4" lengthAdjust="spacingAndGlyphs">r<tspan dy="-9.4" font-size="13.8">2</tspan><tspan dy="9.4" dx="1.6"> = 0.12*</tspan></text>
<text x="577.7" y="269.8" class="b" textLength="95.1" lengthAdjust="spacingAndGlyphs">r<tspan dy="-9.4" font-size="13.8">2</tspan><tspan dy="9.4" dx="1.6"> = 0.17**</tspan></text>
<text x="855.7" y="74.8" class="b" textLength="60.6" lengthAdjust="spacingAndGlyphs">n <tspan dx="1.4">= 48</tspan></text>
<text x="855.7" y="101.9" class="b" textLength="95.1" lengthAdjust="spacingAndGlyphs">r<tspan dy="-9.4" font-size="13.8">2</tspan><tspan dy="9.4" dx="1.6"> = 0.17**</tspan></text>
<text x="852.7" y="223.8" class="b" textLength="102.6" lengthAdjust="spacingAndGlyphs">r<tspan dy="-9.4" font-size="13.8">2</tspan><tspan dy="9.4" dx="1.6"> = 0.35***</tspan></text>
<text x="1159.7" y="79.8" class="b" textLength="60.6" lengthAdjust="spacingAndGlyphs">n <tspan dx="1.4">= 45</tspan></text>
<text x="1159.7" y="106.6" class="b" textLength="95.1" lengthAdjust="spacingAndGlyphs">r<tspan dy="-9.4" font-size="13.8">2</tspan><tspan dy="9.4" dx="1.6"> = 0.18**</tspan></text>
<text x="1149.7" y="267.9" class="b" textLength="102.6" lengthAdjust="spacingAndGlyphs">r<tspan dy="-9.4" font-size="13.8">2</tspan><tspan dy="9.4" dx="1.6"> = 0.26***</tspan></text>
<text x="267.7" y="338.6" class="b" textLength="102.6" lengthAdjust="spacingAndGlyphs">r<tspan dy="-9.4" font-size="13.8">2</tspan><tspan dy="9.4" dx="1.6"> = 0.32***</tspan></text>
<text x="263.7" y="496.9" class="b" textLength="102.6" lengthAdjust="spacingAndGlyphs">r<tspan dy="-9.4" font-size="13.8">2</tspan><tspan dy="9.4" dx="1.6"> = 0.35***</tspan></text>
<text x="564.7" y="498.6" class="b" textLength="102.6" lengthAdjust="spacingAndGlyphs">r<tspan dy="-9.4" font-size="13.8">2</tspan><tspan dy="9.4" dx="1.6"> = 0.33***</tspan></text>
<text x="849.7" y="318.6" class="b" textLength="102.6" lengthAdjust="spacingAndGlyphs">r<tspan dy="-9.4" font-size="13.8">2</tspan><tspan dy="9.4" dx="1.6"> = 0.34***</tspan></text>
<text x="691.7" y="475.6" class="b" textLength="102.6" lengthAdjust="spacingAndGlyphs">r<tspan dy="-9.4" font-size="13.8">2</tspan><tspan dy="9.4" dx="1.6"> = 0.30***</tspan></text>
<text x="1147.0" y="314.8" class="b" textLength="87.4" lengthAdjust="spacingAndGlyphs">r<tspan dy="-9.4" font-size="13.8">2</tspan><tspan dy="9.4" dx="1.6"> = 0.11*</tspan></text>
<text x="1147.0" y="496.9" class="b" textLength="95.1" lengthAdjust="spacingAndGlyphs">r<tspan dy="-9.4" font-size="13.8">2</tspan><tspan dy="9.4" dx="1.6"> = 0.19**</tspan></text>
<text x="88.6" y="52.6" class="s" text-anchor="end">40</text>
<text x="88.6" y="111.7" class="s" text-anchor="end">30</text>
<text x="88.6" y="169.8" class="s" text-anchor="end">20</text>
<text x="88.6" y="228.0" class="s" text-anchor="end">10</text>
<text x="88.6" y="285.8" class="s" text-anchor="end">0</text>
<text x="88.6" y="286.3" class="s" text-anchor="end">3.0</text>
<text x="88.6" y="325.0" class="s" text-anchor="end">2.5</text>
<text x="88.6" y="363.8" class="s" text-anchor="end">2.0</text>
<text x="88.6" y="402.5" class="s" text-anchor="end">1.5</text>
<text x="88.6" y="441.3" class="s" text-anchor="end">1.0</text>
<text x="88.6" y="480.0" class="s" text-anchor="end">.5</text>
<text x="88.6" y="518.8" class="s" text-anchor="end">0.0</text>
<text x="95.4" y="534.2" class="s" text-anchor="middle">0</text>
<text x="143.9" y="534.2" class="s" text-anchor="middle">2</text>
<text x="192.4" y="534.2" class="s" text-anchor="middle">4</text>
<text x="240.9" y="534.2" class="s" text-anchor="middle">6</text>
<text x="289.4" y="534.2" class="s" text-anchor="middle">8</text>
<text x="337.9" y="534.2" class="s" text-anchor="middle">10</text>
<text x="434.6" y="534.2" class="s" text-anchor="middle">2</text>
<text x="483.1" y="534.2" class="s" text-anchor="middle">4</text>
<text x="531.6" y="534.2" class="s" text-anchor="middle">6</text>
<text x="580.1" y="534.2" class="s" text-anchor="middle">8</text>
<text x="628.6" y="534.2" class="s" text-anchor="middle">10</text>
<text x="725.6" y="534.2" class="s" text-anchor="middle">2</text>
<text x="774.1" y="534.2" class="s" text-anchor="middle">4</text>
<text x="822.6" y="534.2" class="s" text-anchor="middle">6</text>
<text x="871.1" y="534.2" class="s" text-anchor="middle">8</text>
<text x="919.6" y="534.2" class="s" text-anchor="middle">10</text>
<text x="1016.6" y="534.2" class="s" text-anchor="middle">2</text>
<text x="1065.1" y="534.2" class="s" text-anchor="middle">4</text>
<text x="1113.6" y="534.2" class="s" text-anchor="middle">6</text>
<text x="1162.1" y="534.2" class="s" text-anchor="middle">8</text>
<text x="1210.6" y="534.2" class="s" text-anchor="middle">10</text>
<text x="1259.1" y="534.2" class="s" text-anchor="middle">12</text>
<text x="386.1" y="534.2" class="s" text-anchor="middle">0</text>
<text x="677.1" y="534.2" class="s" text-anchor="middle">0</text>
<text x="968.1" y="534.2" class="s" text-anchor="middle">0</text>
<text y="579.6" class="b" style="font-size:20.1px"><tspan x="539.2">Plant</tspan><tspan x="596.0">species</tspan><tspan x="673.8">richness</tspan><tspan x="759.1">(m</tspan><tspan x="785.3" dy="-8.6" font-size="13.8">-2</tspan><tspan x="797.2" dy="8.6">)</tspan></text>
<text transform="translate(62.2,248.3) rotate(-90)" class="s" textLength="168.6" lengthAdjust="spacingAndGlyphs">N concentration (mg g<tspan dy="-6" font-size="10.3">-1</tspan><tspan dy="6">)</tspan></text>
<text transform="translate(58.0,481.2) rotate(-90)" class="s" textLength="165.3" lengthAdjust="spacingAndGlyphs">P concentration (mg g<tspan dy="-6" font-size="10.3">-1</tspan><tspan dy="6">)</tspan></text>
</g>
</svg>
</body>
</html>
